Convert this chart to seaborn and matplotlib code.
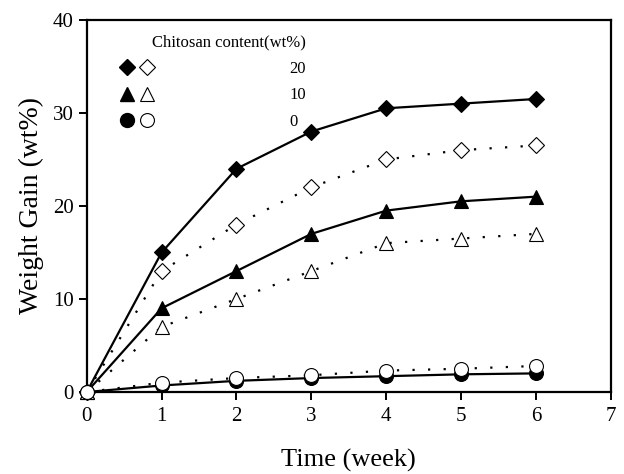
import numpy as np
import pandas as pd
import matplotlib
matplotlib.use("Agg")
import matplotlib.pyplot as plt
import seaborn as sns
from matplotlib.legend_handler import HandlerTuple
from matplotlib.lines import Line2D

# data
weeks = [0, 1, 2, 3, 4, 5, 6]
filled_20 = [0, 15, 24, 28, 30.5, 31, 31.5]
open_20 = [0, 13, 18, 22, 25, 26, 26.5]
filled_10 = [0, 9, 13, 17, 19.5, 20.5, 21]
open_10 = [0, 7, 10, 13, 16, 16.5, 17]
filled_0 = [0, 0.7, 1.2, 1.5, 1.7, 1.9, 2.0]
open_0 = [0, 1.0, 1.5, 1.8, 2.3, 2.5, 2.8]
contents = ["20", "10", "0"]

sns.set_theme(style="ticks")
plt.rcParams['font.family'] = ['Liberation Serif', 'DejaVu Serif']

fig = plt.figure(figsize=(6.24, 4.74), dpi=100)
ax = fig.add_axes([0.139, 0.173, 0.840, 0.785])

msize = {"D": 8, "^": 9.5, "o": 10}
dots = (0, (1, 6))
series = [
    (filled_20, "D", "black", "-"),
    (open_20, "D", "white", dots),
    (filled_10, "^", "black", "-"),
    (open_10, "^", "white", dots),
    (filled_0, "o", "black", "-"),
    (open_0, "o", "white", dots),
]
for vals, mk, fc, ls in series:
    df = pd.DataFrame({"week": weeks, "gain": vals})
    sns.lineplot(data=df, x="week", y="gain", ax=ax, color="black",
                 linestyle=ls, lw=1.6,
                 marker=mk, markersize=msize[mk],
                 markerfacecolor=fc, markeredgecolor="black",
                 markeredgewidth=0.8, clip_on=False, zorder=3)

ax.set_xlim(0, 7)
ax.set_ylim(0, 40)
ax.set_xticks(range(0, 8))
ax.set_yticks(range(0, 41, 10))
ax.set_xlabel("Time (week)", fontsize=19, labelpad=16, color="black")
ax.set_ylabel("Weight Gain (wt%)", fontsize=20, labelpad=6, color="black")
ax.tick_params(axis="both", labelsize=15, direction="out", length=6, width=1.4,
               color="black", labelcolor="black")
ax.tick_params(axis="x", pad=5)
for s in ax.spines.values():
    s.set_linewidth(1.6)
    s.set_color("black")

handles = []
for mk in ["D", "^", "o"]:
    h1 = Line2D([], [], ls="", marker=mk, ms=msize[mk], mfc="black", mec="black")
    h2 = Line2D([], [], ls="", marker=mk, ms=msize[mk], mfc="white", mec="black", mew=0.8)
    handles.append((h1, h2))
leg = ax.legend(handles, contents, handler_map={tuple: HandlerTuple(ndivide=None, pad=0.15)},
                title="Chitosan content(wt%)", loc="upper left", bbox_to_anchor=(0.059, 0.96),
                frameon=False, fontsize=12, title_fontsize=12, handlelength=2.3,
                handletextpad=8.0, labelspacing=0.62, alignment="right", markerfirst=True,
                borderpad=0, borderaxespad=0)
for t in leg.get_texts():
    t.set_color("black")
leg.get_title().set_color("black")

fig.savefig("out.png", dpi=100)
